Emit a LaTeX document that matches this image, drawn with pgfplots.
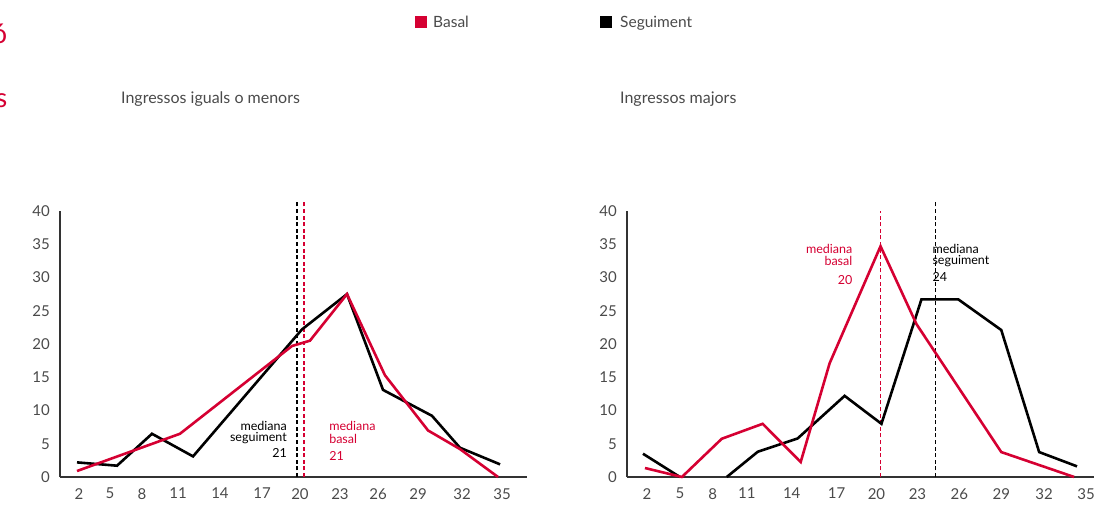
\documentclass[border=0pt]{standalone}
\usepackage{fontspec}
\setmainfont{Lato}
\usepackage{pgfplots}
\pgfplotsset{compat=1.18}
\usepackage{pgfplotstable}
\definecolor{myred}{HTML}{D50032}
\definecolor{axisgray}{HTML}{333333}
\definecolor{textgray}{HTML}{4A4A4A}

% Ingressos iguals o menors
\pgfplotstableread{
x y
2.00 2.2
5.12 1.7
7.85 6.5
11.05 3.1
19.55 22.2
23.06 27.5
25.87 13.1
29.69 9.2
31.87 4.4
35.00 1.9
}\leftseg
\pgfplotstableread{
x y
2.00 0.9
10.03 6.5
18.77 19.7
20.17 20.5
23.06 27.5
26.02 15.3
29.38 7.0
31.87 4.2
34.84 0.0
}\leftbas
% Ingressos majors
\pgfplotstableread{
x y
2.00 3.5
4.81 0.0
}\rightsegA
\pgfplotstableread{
x y
8.37 0.0
10.73 3.8
13.76 5.8
17.33 12.2
20.13 8.0
23.17 26.7
25.98 26.7
29.24 22.1
32.12 3.75
35.00 1.6
}\rightsegB
\pgfplotstableread{
x y
2.15 1.35
4.96 0.0
7.99 5.75
11.10 8.0
13.99 2.25
16.19 17.1
20.06 34.7
22.79 23.0
29.24 3.75
34.78 0.0
}\rightbas

\pgfplotsset{
  mychart/.style={
    scale only axis, width=467pt, height=266pt,
    ymin=0, ymax=40, ytick={0,5,...,40},
    axis x line=bottom, axis y line=left,
    axis line style={draw=axisgray, line width=2pt, -},
    tick style={draw=none}, major tick length=0pt,
    ticklabel style={font=\fontsize{15}{15}\selectfont, text=textgray},
    yticklabel style={anchor=east, inner sep=0pt, xshift=-10pt},
    xticklabel style={anchor=north, inner sep=0pt, yshift=-11pt},
    /pgf/number format/assume math mode=true,
    xticklabels={2,5,8,11,14,17,20,23,26,29,32,35},
    clip=false,
  },
  seg/.style={draw=black, line width=2.6pt, line join=miter, miter limit=4, no markers},
  bas/.style={draw=myred, line width=2.6pt, line join=miter, miter limit=4, no markers},
  medline/.style={line width=1.5pt, dash pattern=on 4pt off 2.6pt, no markers},
}
\tikzset{
  medtxt/.style={inner sep=0pt, font=\fontsize{12.5}{12.5}\selectfont},
  ttl/.style={anchor=base west, inner sep=0pt, font=\fontsize{16}{16}\selectfont, text=textgray},
}

\begin{document}
\begin{tikzpicture}[x=1pt,y=1pt]
\path[use as bounding box] (0,0) rectangle (1119,504);

\node[anchor=base east, inner sep=0pt, text=myred, font=\fontsize{27}{27}\selectfont] at (7.5,460) {ó};
\node[anchor=base east, inner sep=0pt, text=myred, font=\fontsize{27}{27}\selectfont] at (7.5,396) {s};

% legend
\fill[myred] (415,476) rectangle (427,488);
\node[anchor=base west, inner sep=0pt, text=textgray, font=\fontsize{15.5}{15.5}\selectfont] at (433,476) {Basal};
\fill[black] (600,476) rectangle (612,488);
\node[anchor=base west, inner sep=0pt, text=textgray, font=\fontsize{15.5}{15.5}\selectfont] at (620,476) {Seguiment};

\begin{axis}[mychart, at={(60pt,27pt)}, anchor=south west,
  xmin=0.674, xmax=37.10,
  xtick={2.16,4.57,7.07,9.88,13.15,16.43,19.39,22.51,25.48,28.60,32.03,35.15}]
  \addplot[medline, draw=black] coordinates {(19.16,0) (19.16,41.5)};
  \addplot[medline, draw=myred] coordinates {(19.71,0) (19.71,41.5)};
  \addplot[seg] table[x=x,y=y] {\leftseg};
  \addplot[bas] table[x=x,y=y] {\leftbas};
  \node[ttl] at (axis description cs:0.1306,1.406) {Ingressos iguals o menors};
  \node[medtxt, anchor=base east, text=black] at (axis cs:18.38,7.0) {mediana};
  \node[medtxt, anchor=base east, text=black] at (axis cs:18.38,5.35) {seguiment};
  \node[medtxt, anchor=base east, text=black] at (axis cs:18.38,2.95) {21};
  \node[medtxt, anchor=base west, text=myred] at (axis cs:21.66,6.95) {mediana};
  \node[medtxt, anchor=base west, text=myred] at (axis cs:21.66,5.05) {basal};
  \node[medtxt, anchor=base west, text=myred] at (axis cs:21.66,2.55) {21};
\end{axis}

\begin{axis}[mychart, at={(627pt,27pt)}, anchor=south west,
  xmin=0.786, xmax=36.29,
  xtick={2.30,4.81,7.31,9.89,13.31,16.72,19.75,22.87,26.05,29.24,32.50,35.69}]
  \addplot[medline, draw=myred] coordinates {(20.06,0) (20.06,40)};
  \addplot[medline, draw=black] coordinates {(24.23,0) (24.23,41.3)};
  \addplot[seg] table[x=x,y=y] {\rightsegA};
  \addplot[seg] table[x=x,y=y] {\rightsegB};
  \addplot[bas] table[x=x,y=y] {\rightbas};
  \node[ttl] at (axis description cs:-0.015,1.406) {Ingressos majors};
  \node[medtxt, anchor=base east, text=myred] at (axis cs:17.93,33.6) {mediana};
  \node[medtxt, anchor=base east, text=myred] at (axis cs:17.93,31.8) {basal};
  \node[medtxt, anchor=base east, text=myred] at (axis cs:17.93,28.9) {20};
  \node[medtxt, anchor=base west, text=black] at (axis cs:24.0,33.6) {mediana};
  \node[medtxt, anchor=base west, text=black] at (axis cs:24.0,31.9) {seguiment};
  \node[medtxt, anchor=base west, text=black] at (axis cs:24.0,29.4) {24};
\end{axis}
\end{tikzpicture}
\end{document}
